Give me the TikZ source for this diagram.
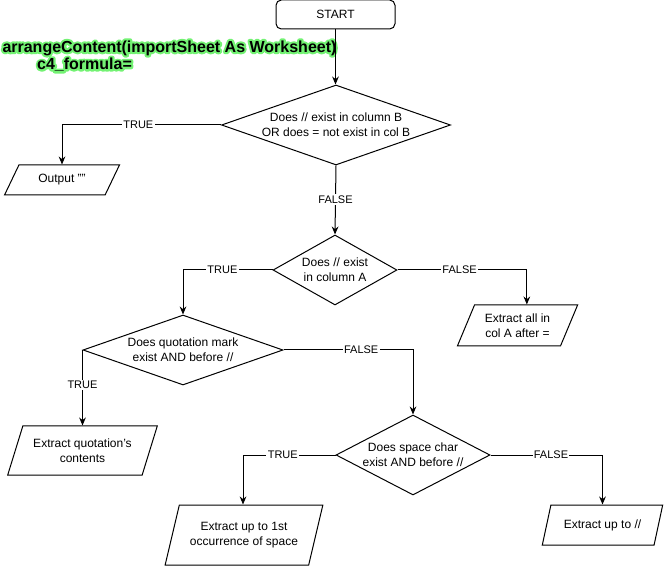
\documentclass[tikz,border=0pt]{standalone}
\usepackage{fontspec}
\setmainfont{Liberation Sans}
\usepackage{tikz}
\usetikzlibrary{arrows.meta, shapes.geometric}
% green halo behind the header text
\newcommand{\glowtext}[1]{\leavevmode\rlap{\special{pdf:literal direct q 2 Tr 3.2 w 1 J 1 j 0.45 0.95 0.45 RG 0.45 0.95 0.45 rg}#1\special{pdf:literal direct 0 Tr Q}}#1}
\tikzset{
    terminal/.style={rectangle, draw=black, rounded corners=4pt, fill=white, align=center, minimum width=89.25pt, minimum height=21.75pt, font=\fontsize{9}{11}\selectfont},
    decision/.style={diamond, draw=black, fill=white, align=center, inner sep=-2pt, font=\fontsize{9}{11}\selectfont},
    io/.style={trapezium, trapezium stretches=true, draw=black, fill=white, align=center, inner sep=0pt, font=\fontsize{9}{11}\selectfont},
    arrow/.style={-{Stealth[length=6pt, width=5pt]}, line width=0.75pt},
    branch/.style={fill=white, inner sep=1pt, font=\fontsize{8.25}{9}\selectfont},
    title/.style={align=left, inner sep=0pt, font=\fontsize{12}{14}\selectfont\bfseries}
}

\begin{document}
\begin{tikzpicture}[x=0.75pt, y=-0.75pt, line width=0.75pt]
        \useasboundingbox (0,0) rectangle (664,566);

        % Start and function header
        \node[terminal] (start) at (335.5,14.5) {START};
        \node[title, anchor=north west] (head) at (2,40) {\glowtext{arrangeContent(importSheet As Worksheet)}\\[-1pt]\hspace*{26pt}\glowtext{c4\_formula=}};

        % Decisions
        \node[decision, aspect=2.86, minimum width=171.75pt, minimum height=60pt] (colB) at (336,125) {Does // exist in column B\\OR does = not exist in col B};
        \node[decision, aspect=1.77, minimum width=93pt, minimum height=52.5pt] (colA) at (335,270) {Does // exist\\in column A};
        \node[decision, aspect=2.86, minimum width=150pt, minimum height=52.5pt] (quote) at (183,350) {Does quotation mark\\exist AND before //};
        \node[decision, aspect=1.93, minimum width=115.5pt, minimum height=60pt] (space) at (413,455) {Does space char\\exist AND before //};

        % Outputs
        \node[io, trapezium left angle=54, trapezium right angle=126, minimum width=86.25pt, minimum height=22.5pt] (blank) at (62,180) {Output ""};
        \node[io, trapezium left angle=61, trapezium right angle=119, minimum width=90.75pt, minimum height=30.75pt] (afterEq) at (517.5,325.5) {Extract all in\\col A after =};
        \node[io, trapezium left angle=62, trapezium right angle=118, minimum width=113.25pt, minimum height=36.75pt] (quoted) at (82.5,450.5) {Extract quotation's\\contents};
        \node[io, trapezium left angle=65, trapezium right angle=115, minimum width=118.5pt, minimum height=45pt] (toSpace) at (244,535) {Extract up to 1st\\occurrence of space};
        \node[io, trapezium left angle=60, trapezium right angle=120, minimum width=90.75pt, minimum height=30pt] (toSlash) at (602.5,525) {Extract up to //};

        % Arrows
        \draw[arrow] (start.south) -- (start.south |- colB.north);
        \draw[arrow] (colB.west) -| node[branch, pos=0.26] {TRUE} (blank.north);
        \draw[arrow] (colB.south) -- node[branch, pos=0.49] {FALSE} (colA.north);
        \draw[arrow] (colA.west) -| node[branch, pos=0.28] {TRUE} (quote.north);
        \draw[arrow] (colA.east) -| node[branch, pos=0.24] {FALSE} ([xshift=7pt]afterEq.north);
        \draw[arrow] (quote.west) -- node[branch, pos=0.46] {TRUE} (quote.west |- quoted.north);
        \draw[arrow] (quote.east) -| node[branch, pos=0.3] {FALSE} (space.north);
        \draw[arrow] (space.west) -| node[branch, pos=0.285] {TRUE} ([xshift=-0.75pt]toSpace.north);
        \draw[arrow] (space.east) -| node[branch, pos=0.27] {FALSE} (toSlash.north);
    \end{tikzpicture}
\end{document}
